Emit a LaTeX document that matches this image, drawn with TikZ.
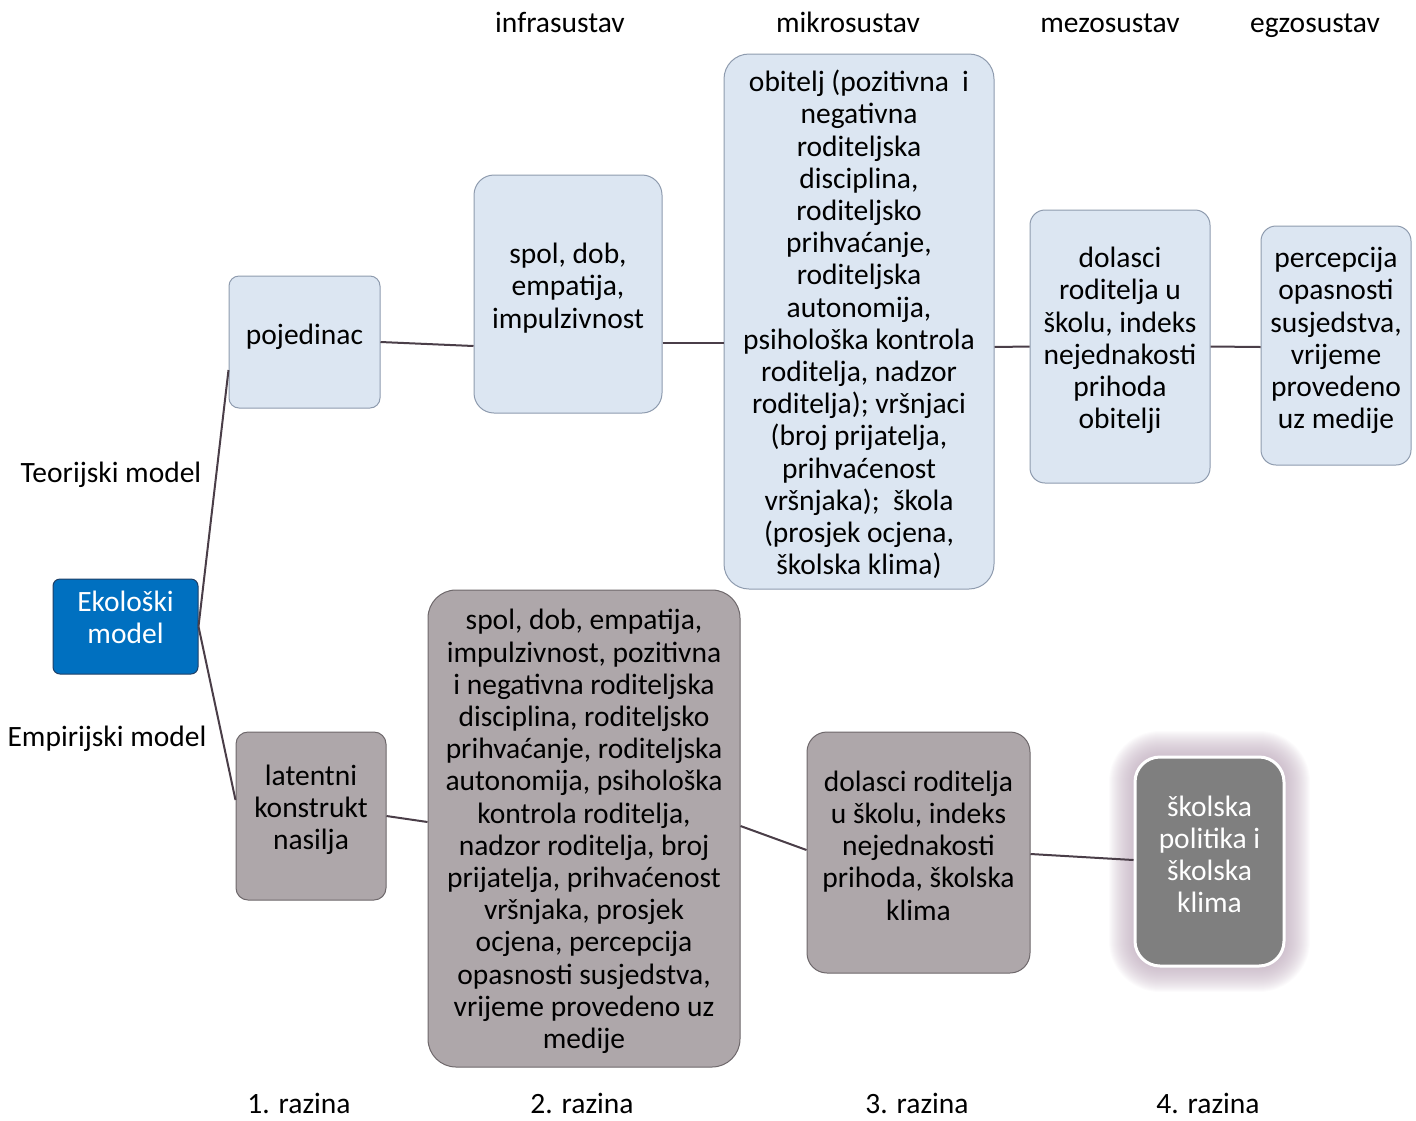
\documentclass[tikz,border=0pt]{standalone}
\usepackage{fontspec}
\setmainfont{Carlito}
\definecolor{lbfill}{HTML}{DCE6F2}
\definecolor{lbdraw}{HTML}{8E9BAE}
\definecolor{gfill}{HTML}{AEA7AA}
\definecolor{gdraw}{HTML}{6E686B}
\definecolor{ekofill}{HTML}{0070C0}
\definecolor{ekodraw}{HTML}{1F3F66}
\definecolor{edgec}{HTML}{4A3E48}
\definecolor{glowc}{HTML}{B9A4B7}
\definecolor{dgfill}{HTML}{7F7F7F}
\begin{document}
\begin{tikzpicture}[x=1pt,y=-1pt,
  txt/.style={font=\fontsize{29.5}{32.2}\selectfont, align=center, inner sep=0pt},
  lbox/.style={fill=lbfill, draw=lbdraw, line width=1pt},
  gbox/.style={fill=gfill, draw=gdraw, line width=1pt},
  conn/.style={draw=edgec, line width=2pt}]
\useasboundingbox (0,0) rectangle (1416,1120);
% glow
\foreach \e in {26,25,...,1} {
  \fill[glowc, opacity=0.045, rounded corners={25pt+\e pt}] (1135-\e,757-\e) rectangle (1284+\e,966+\e);
}
\node[lbox, rounded corners=10pt, minimum width=151pt, minimum height=132pt] (poj) at (304.5,342) {};
\node[txt] (tpoj) at ([yshift=5pt]poj.center) {pojedinac};
\node[lbox, rounded corners=20pt, minimum width=188pt, minimum height=238pt] (spol) at (568,294) {};
\node[txt] (tspol) at ([yshift=6pt]spol.center) {spol, dob,\\ empatija,\\ impulzivnost};
\node[lbox, rounded corners=25pt, minimum width=270pt, minimum height=535pt] (mikro) at (859,321.5) {};
\node[txt] (tmikro) at ([yshift=-3pt]mikro.center) {obitelj (pozitivna\ \ i\\ negativna\\ roditeljska\\ disciplina,\\ roditeljsko\\ prihvaćanje,\\ roditeljska\\ autonomija,\\ psihološka kontrola\\ roditelja, nadzor\\ roditelja); vršnjaci\\ (broj prijatelja,\\ prihvaćenost\\ vršnjaka);\ \ škola\\ (prosjek ocjena,\\ školska klima)};
\node[lbox, rounded corners=15pt, minimum width=180pt, minimum height=273pt] (mezo) at (1120,346.5) {};
\node[txt] (tmezo) at ([yshift=6pt]mezo.center) {dolasci\\ roditelja u\\ školu, indeks\\ nejednakosti\\ prihoda\\ obitelji};
\node[lbox, rounded corners=15pt, minimum width=150pt, minimum height=239pt] (egzo) at (1336,345.5) {};
\node[txt] (tegzo) at ([yshift=5pt]egzo.center) {percepcija\\ opasnosti\\ susjedstva,\\ vrijeme\\ provedeno\\ uz medije};
\node[fill=ekofill, draw=ekodraw, line width=1pt, rounded corners=7pt, minimum width=145pt, minimum height=95pt] (eko) at (125.5,626.5) {};
\node[txt, text=white] (teko) at ([yshift=9pt]eko.center) {Ekološki\\ model};
\node[gbox, rounded corners=12pt, minimum width=150pt, minimum height=168pt] (lat) at (311,816) {};
\node[txt] (tlat) at ([yshift=6pt]lat.center) {latentni\\ konstrukt\\ nasilja};
\node[gbox, rounded corners=28pt, minimum width=312pt, minimum height=477pt] (big) at (584,828.5) {};
\node[txt] (tbig) at ([yshift=-3pt]big.center) {spol, dob, empatija,\\ impulzivnost, pozitivna\\ i negativna roditeljska\\ disciplina, roditeljsko\\ prihvaćanje, roditeljska\\ autonomija, psihološka\\ kontrola roditelja,\\ nadzor roditelja, broj\\ prijatelja, prihvaćenost\\ vršnjaka, prosjek\\ ocjena, percepcija\\ opasnosti susjedstva,\\ vrijeme provedeno uz\\ medije};
\node[gbox, rounded corners=20pt, minimum width=223pt, minimum height=241pt] (dol) at (918.5,852.5) {};
\node[txt] (tdol) at ([yshift=7pt]dol.center) {dolasci roditelja\\ u školu, indeks\\ nejednakosti\\ prihoda, školska\\ klima};
\node[fill=dgfill, draw=white, line width=3pt, rounded corners=25pt, minimum width=149pt, minimum height=209pt] (sk) at (1209.5,861.5) {};
\node[txt, text=white] (tsk) at ([yshift=7pt]sk.center) {školska\\ politika i\\ školska\\ klima};
% labels
\node[txt, anchor=base] (l1) at (560,32) {infrasustav};
\node[txt, anchor=base] (l2) at (848,32) {mikrosustav};
\node[txt, anchor=base] (l3) at (1110,32) {mezosustav};
\node[txt, anchor=base] (l4) at (1315,32) {egzosustav};
\node[txt, anchor=base] (lt) at (111,482) {Teorijski model};
\node[txt, anchor=base] (le) at (107,746) {Empirijski model};
\node[txt, anchor=base] (r1) at (299,1113) {1. razina};
\node[txt, anchor=base] (r2) at (582,1113) {2. razina};
\node[txt, anchor=base] (r3) at (917,1113) {3. razina};
\node[txt, anchor=base] (r4) at (1208,1113) {4. razina};
% connectors
\draw[conn] (eko.east) -- ([yshift=-28pt]poj.west);
\draw[conn] (eko.east) -- ([yshift=16pt]lat.west);
\draw[conn] (poj.east) -- ([yshift=-52pt]spol.west);
\draw[conn] ([yshift=-49pt]spol.east) -- ([yshift=-21.5pt]mikro.west);
\draw[conn] ([yshift=-25.5pt]mikro.east) -- (mezo.west);
\draw[conn] (mezo.east) -- ([yshift=-1.5pt]egzo.west);
\draw[conn] (lat.east) -- ([yshift=6.5pt]big.west);
\draw[conn] ([yshift=2.5pt]big.east) -- ([yshift=2.5pt]dol.west);
\draw[conn] ([yshift=-1.5pt]dol.east) -- ([yshift=1.5pt]sk.west);
\end{tikzpicture}
\end{document}
